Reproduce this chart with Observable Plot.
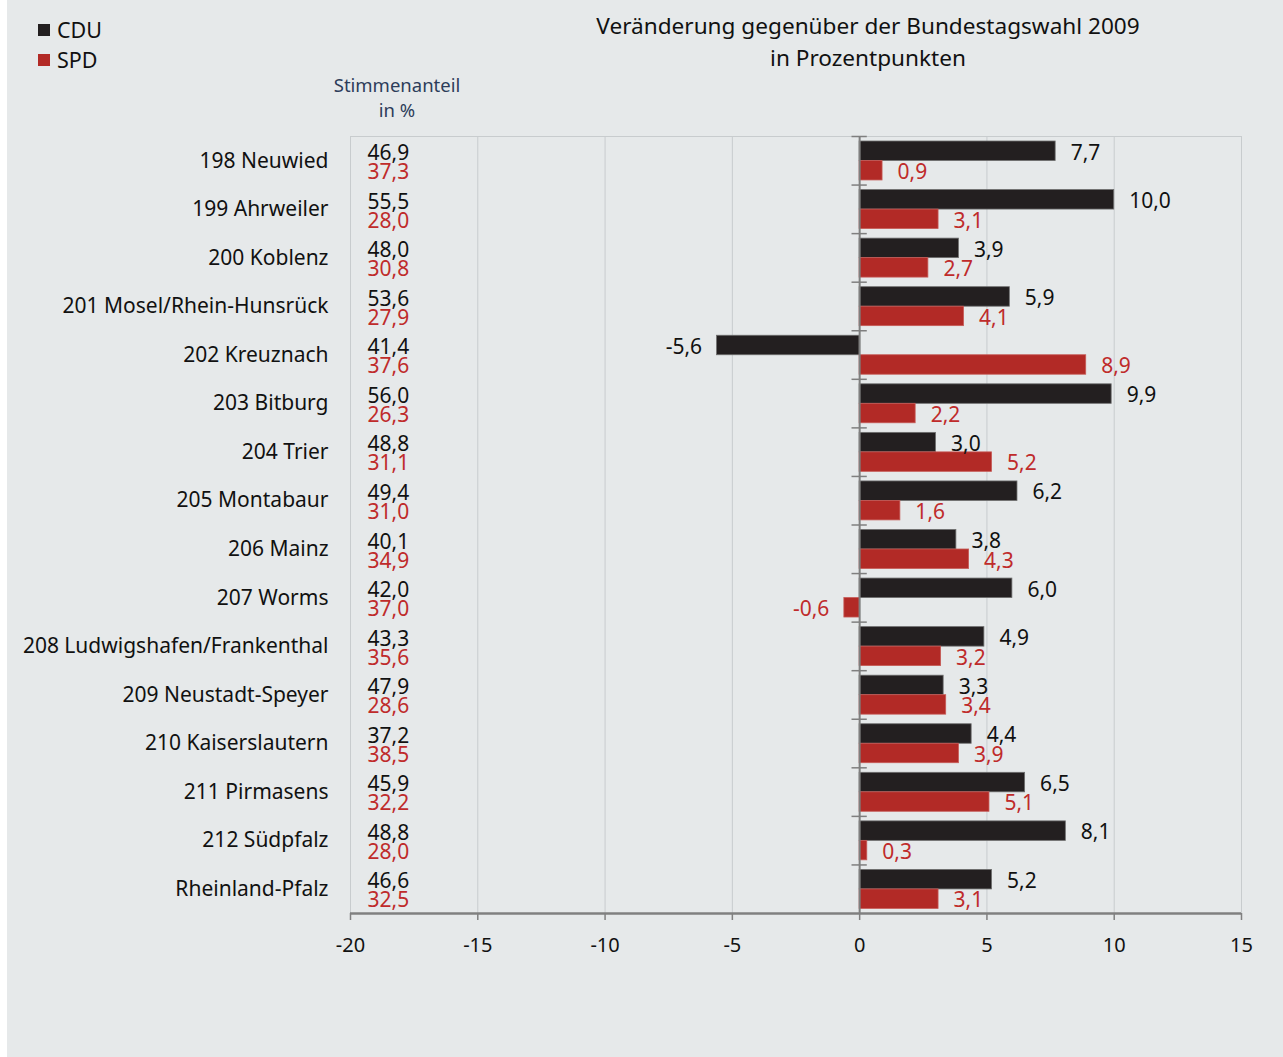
<!DOCTYPE html>
<html>
<head>
<meta charset="utf-8">
<script src="https://cdn.jsdelivr.net/npm/d3@7"></script>
<script src="https://cdn.jsdelivr.net/npm/@observablehq/plot@0.6"></script>
<style>
  html, body { margin: 0; padding: 0; background: #ffffff; }
  #wrap { position: relative; width: 1283px; height: 1057px; overflow: hidden; font-family: "Noto Sans", sans-serif; }
  #bg { position: absolute; left: 7px; top: 0; width: 1276px; height: 1057px; background: #e6e9ea; }
  #chart { position: absolute; left: 0; top: 0; }
  .abs { position: absolute; white-space: nowrap; }
  .sw { position: absolute; width: 12px; height: 12px; }
</style>
</head>
<body>
<div id="wrap">
  <div id="bg"></div>
  <div id="chart"></div>
  <div class="sw" style="left:38px;top:24px;background:#231f20"></div>
  <div class="abs" style="left:57px;top:15px;font-size:21.5px;line-height:30px;color:#111">CDU</div>
  <div class="sw" style="left:38px;top:54px;background:#b22a26"></div>
  <div class="abs" style="left:57px;top:45px;font-size:21.5px;line-height:30px;color:#111">SPD</div>
  <div class="abs" style="left:568px;width:600px;top:10px;text-align:center;font-size:22.6px;line-height:32px;color:#111">Veränderung gegenüber der Bundestagswahl 2009<br>in Prozentpunkten</div>
  <div class="abs" style="left:297px;width:200px;top:72px;text-align:center;font-size:18.5px;line-height:25px;color:#2d3d5a">Stimmenanteil<br>in %</div>
</div>
<script>
const districts = ["198 Neuwied", "199 Ahrweiler", "200 Koblenz", "201 Mosel/Rhein-Hunsrück", "202 Kreuznach", "203 Bitburg", "204 Trier", "205 Montabaur", "206 Mainz", "207 Worms", "208 Ludwigshafen/Frankenthal", "209 Neustadt-Speyer", "210 Kaiserslautern", "211 Pirmasens", "212 Südpfalz", "Rheinland-Pfalz"];
const cduShare = [46.9, 55.5, 48.0, 53.6, 41.4, 56.0, 48.8, 49.4, 40.1, 42.0, 43.3, 47.9, 37.2, 45.9, 48.8, 46.6];
const spdShare = [37.3, 28.0, 30.8, 27.9, 37.6, 26.3, 31.1, 31.0, 34.9, 37.0, 35.6, 28.6, 38.5, 32.2, 28.0, 32.5];
const cduChange = [7.7, 10.0, 3.9, 5.9, -5.6, 9.9, 3.0, 6.2, 3.8, 6.0, 4.9, 3.3, 4.4, 6.5, 8.1, 5.2];
const spdChange = [0.9, 3.1, 2.7, 4.1, 8.9, 2.2, 5.2, 1.6, 4.3, -0.6, 3.2, 3.4, 3.9, 5.1, 0.3, 3.1];
const xTicks = [-20, -15, -10, -5, 0, 5, 10, 15];

const CDU_COLOR = "#231f20";
const SPD_COLOR = "#b22a26";
const SPD_TEXT = "#bf2b2b";

const rows = districts.map((d, i) => ({
  district: d, cduShare: cduShare[i], spdShare: spdShare[i], cdu: cduChange[i], spd: spdChange[i]
}));
const fmt = v => v.toFixed(1).replace(".", ",");

const W = 1283, H = 1057;
const mTop = 136, mBottom = 144;
const band = (H - mTop - mBottom) / districts.length;

const chart = Plot.plot({
  width: W,
  height: H,
  marginTop: mTop,
  marginBottom: mBottom,
  marginLeft: 350,
  marginRight: 42,
  style: { fontFamily: "Noto Sans, sans-serif", fontSize: "20px", background: "transparent", color: "#111" },
  x: { domain: [-20, 15], label: null },
  y: { domain: districts, padding: 0, round: false, axis: null, label: null },
  marks: [
    Plot.gridX(xTicks, { stroke: "#c8ccce", strokeOpacity: 1, strokeWidth: 1 }),
    Plot.frame({ stroke: "#c8ccce", strokeWidth: 1 }),
    // CDU bars
    Plot.barX(rows, { x1: 0, x2: "cdu", y: "district", fill: CDU_COLOR, stroke: "#6e6e6e", strokeWidth: 0.8,
      insetTop: 5, insetBottom: band - 24.5 }),
    // SPD bars
    Plot.barX(rows, { x1: 0, x2: "spd", y: "district", fill: SPD_COLOR, stroke: "#c65a56", strokeWidth: 0.8,
      insetTop: 24.5, insetBottom: 4.6 }),
    // zero line
    Plot.ruleX([0], { stroke: "#7f7f7f", strokeWidth: 2 }),
    // band boundary ticks on zero line
    Plot.ruleY(rows, { y: "district", x1: -0.3, x2: 0.3, dy: -band / 2, stroke: "#7f7f7f", strokeWidth: 1.5 }),
    // value labels CDU
    Plot.text(rows.filter(r => r.cdu >= 0), { x: "cdu", y: "district", text: r => fmt(r.cdu), dx: 15, dy: -8,
      textAnchor: "start", fill: "#111", fontSize: 21 }),
    Plot.text(rows.filter(r => r.cdu < 0), { x: "cdu", y: "district", text: r => fmt(r.cdu), dx: -15, dy: -8,
      textAnchor: "end", fill: "#111", fontSize: 21 }),
    // value labels SPD
    Plot.text(rows.filter(r => r.spd >= 0), { x: "spd", y: "district", text: r => fmt(r.spd), dx: 15, dy: 11.5,
      textAnchor: "start", fill: SPD_TEXT, fontSize: 21 }),
    Plot.text(rows.filter(r => r.spd < 0), { x: "spd", y: "district", text: r => fmt(r.spd), dx: -15, dy: 11.5,
      textAnchor: "end", fill: SPD_TEXT, fontSize: 21 }),
    // category labels
    Plot.text(rows, { y: "district", text: "district", frameAnchor: "left", textAnchor: "end", dx: -22,
      fill: "#111", fontSize: 21 }),
    // vote shares
    Plot.text(rows, { y: "district", text: r => fmt(r.cduShare), frameAnchor: "left", textAnchor: "start", dx: 17, dy: -7.5,
      fill: "#111", fontSize: 21 }),
    Plot.text(rows, { y: "district", text: r => fmt(r.spdShare), frameAnchor: "left", textAnchor: "start", dx: 17, dy: 11.5,
      fill: SPD_TEXT, fontSize: 21 }),
    // bottom axis line (lower edge of last band)
    Plot.ruleY(rows.slice(-1), { y: "district", dy: band / 2, x1: -20, x2: 15, stroke: "#808080", strokeWidth: 2.5 }),
    Plot.axisX(xTicks, { tickSize: 7, tickPadding: 17, stroke: "#808080", strokeWidth: 1.5, fontSize: 20, fill: "#111",
      tickFormat: d => String(d), label: null })
  ]
});
document.getElementById("chart").appendChild(chart);
</script>
</body>
</html>
